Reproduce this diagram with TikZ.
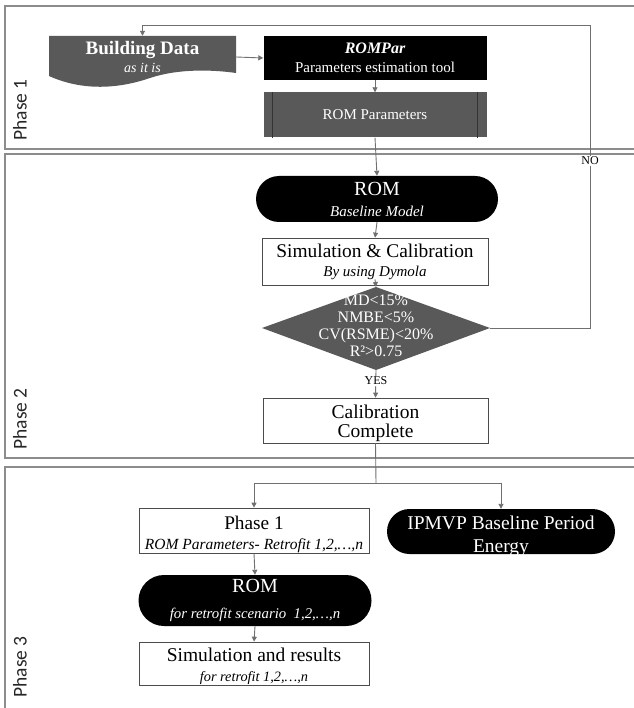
\documentclass[tikz,border=0pt]{standalone}
\usepackage{fontspec}
\setmainfont{Liberation Serif}
\newfontfamily\phasefont{Carlito}
\usetikzlibrary{arrows.meta,shapes.misc}
\definecolor{dgray}{HTML}{595959}
\definecolor{lgray}{HTML}{707070}
\definecolor{pgray}{HTML}{8C8C8C}
\begin{document}
\begin{tikzpicture}[x=1pt,y=-1pt,
  conn/.style={draw=lgray,line width=0.9pt},
  arr/.style={conn,-{Triangle[length=5pt,width=5pt]}},
  panel/.style={draw=pgray,line width=1.1pt},
  phaselab/.style={rotate=90,font=\phasefont\fontsize{19.5}{22}\selectfont,text=black!85,inner sep=0pt},
  whitebox/.style={draw=black!70,line width=0.7pt,fill=white,align=center,inner sep=0pt},
  blackbox/.style={fill=black,text=white,align=center,inner sep=0pt},
  graybox/.style={fill=dgray,text=white,align=center,inner sep=0pt},
  pill/.style={blackbox,rounded rectangle},
  tx/.style={align=center,inner sep=0pt},
  lab/.style={fill=white,inner sep=1pt,font=\fontsize{12}{14}\selectfont}
]
\useasboundingbox (0,0) rectangle (633,708);
\fill[white] (0,0) rectangle (633,708);
% panels
\draw[panel] (640,6) -- (5,6) -- (5,149) -- (640,149);
\draw[panel] (640,154) -- (5,154) -- (5,458) -- (640,458);
\draw[panel] (640,467) -- (5,467) -- (5,720);
\node[phaselab] (ph1) at (20,110) {Phase 1};
\node[phaselab] (ph2) at (20,419) {Phase 2};
\node[phaselab] (ph3) at (20,667) {Phase 3};

% Building data (document shape)
\fill[dgray] (49,36) -- (236,36) -- (236,73)
  .. controls (215,70) and (180,68) .. (150,78)
  .. controls (115,90) and (80,90) .. (49,76) -- cycle;
\node[align=center,text=white,inner sep=0pt,minimum width=187pt,minimum height=44pt,
  font=\fontsize{19}{18}\selectfont] (bd) at (142.5,57)
  {\bfseries Building Data\\{\fontsize{14}{16}\selectfont\itshape as it is}};

% ROMPar
\node[blackbox,minimum width=223pt,minimum height=44pt,font=\fontsize{16}{19}\selectfont] (rp) at (375,58)
  {\bfseries\itshape ROMPar\\{\fontsize{15}{17}\selectfont Parameters estimation tool}};

% ROM Parameters
\node[graybox,minimum width=223pt,minimum height=45pt,font=\fontsize{15}{17}\selectfont] (rpar) at (375,115) {ROM Parameters};
\draw[black!80,line width=0.6pt] ([xshift=9pt]rpar.north west) -- ([xshift=9pt]rpar.south west);
\draw[black!80,line width=0.6pt] ([xshift=-9pt]rpar.north east) -- ([xshift=-9pt]rpar.south east);

% ROM baseline
\node[pill,minimum width=242pt,minimum height=46pt,font=\fontsize{20}{21}\selectfont] (rom) at (377,199)
  {ROM\\{\fontsize{15}{17}\selectfont\itshape Baseline Model}};

% Simulation & Calibration
\node[whitebox,minimum width=226pt,minimum height=47pt,font=\fontsize{19.4}{19}\selectfont] (sim) at (375,261.5)
  {Simulation \& Calibration\\{\fontsize{15}{17}\selectfont\itshape By using Dymola}};

% diamond
\coordinate (diaT) at (376,287);
\coordinate (diaR) at (490,328);
\coordinate (diaB) at (376,370);
\coordinate (diaL) at (262,328);
\fill[dgray] (diaT) -- (diaR) -- (diaB) -- (diaL) -- cycle;
\node[align=center,text=white,inner sep=0pt,font=\fontsize{16}{17}\selectfont] (dia) at (376,326)
  {MD<15\%\\NMBE<5\%\\CV(RSME)<20\%\\R²>0.75};

% Calibration complete
\node[whitebox,minimum width=225pt,minimum height=45pt] (cal) at (375.5,420.5) {};
\node[tx,font=\fontsize{19.5}{19}\selectfont] (calt) at (375.5,423) {Calibration\\Complete};

% Phase 3 nodes
\node[whitebox,minimum width=230pt,minimum height=45pt] (p1) at (254,530.5) {};
\node[tx,font=\fontsize{19.3}{20}\selectfont] (p1t) at (254,534)
  {Phase 1\\{\fontsize{15.5}{17}\selectfont\itshape ROM Parameters- Retrofit 1,2,…,n}};
\node[pill,minimum width=228pt,minimum height=45pt] (ipm) at (501,531.5) {};
\node[tx,text=white,font=\fontsize{19.5}{23}\selectfont] (ipmt) at (501,536)
  {IPMVP Baseline Period\\Energy};
\node[pill,minimum width=233pt,minimum height=51pt,font=\fontsize{20}{26}\selectfont] (rr) at (255,600.5)
  {ROM\\{\fontsize{14.8}{17}\selectfont\itshape for retrofit scenario\ \ 1,2,…,n}};
\node[whitebox,minimum width=230pt,minimum height=43pt] (sr) at (254,663.5) {};
\node[tx,font=\fontsize{19.5}{20}\selectfont] (srt) at (254,666.5)
  {Simulation and results\\{\fontsize{14.3}{16}\selectfont\itshape for retrofit 1,2,…,n}};

% connectors
\draw[arr] (bd.east) -- (rp.west);
\draw[arr] (rp.south) -- (rpar.north);
\draw[arr] (rpar.south) -- (rom.north);
\draw[arr] (rom.south) -- (sim.north);
\draw[arr] ([yshift=6pt]sim.south) -- (diaT);
\coordinate (noc) at (590,25);
\draw[arr] (diaR) -| (noc) -| ([yshift=-1pt]bd.north);
\node[lab] (nolab) at (590,161) {NO};
\draw[arr] (diaB) -- (cal.north);
\node[lab] (yeslab) at (376,381) {YES};
\coordinate (split) at (376,483);
\draw[conn] (cal.south) -- (split);
\draw[arr] (split) -| (p1.north);
\draw[arr] (split) -| (ipm.north);
\draw[arr] (p1.south) -- (rr.north);
\draw[arr] (rr.south) -- (sr.north);
\end{tikzpicture}
\end{document}
